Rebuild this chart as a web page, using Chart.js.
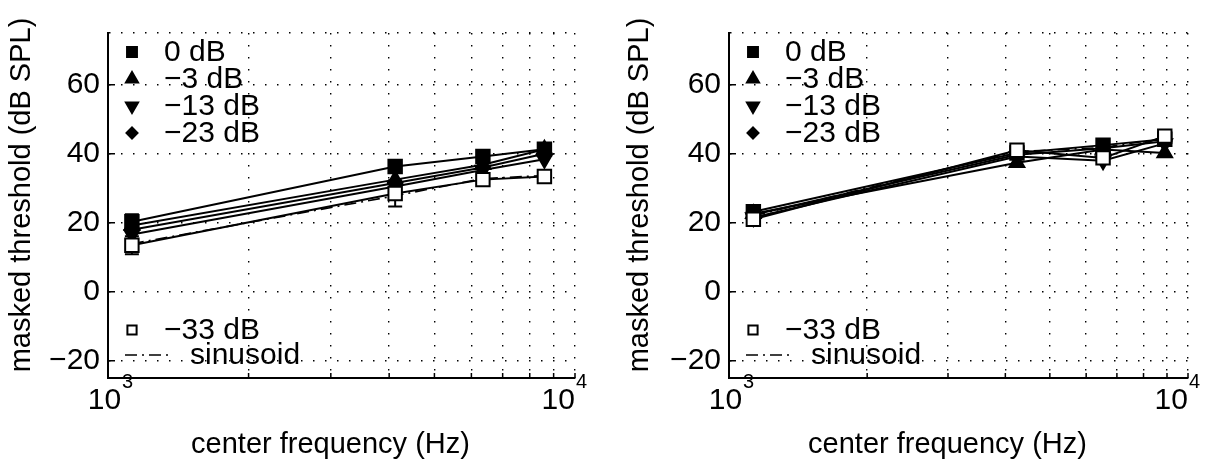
<!DOCTYPE html>
<html>
<head>
<meta charset="utf-8">
<script src="https://cdn.jsdelivr.net/npm/chart.js@4.4.1/dist/chart.umd.min.js"></script>
<style>
  html, body { margin: 0; padding: 0; background: #fff; }
  .figure { display: flex; width: 1220px; height: 467px; }
  .panel { position: relative; width: 610px; height: 467px; }
</style>
</head>
<body>
<div class="figure">
  <div class="panel"><canvas id="leftPanel" width="610" height="467"></canvas></div>
  <div class="panel"><canvas id="rightPanel" width="610" height="467"></canvas></div>
</div>
<script>
const FONT = '"Liberation Sans", Arial, Helvetica, sans-serif';

// legend names, top group then bottom group
const levelNames = ['0 dB', '\u22123 dB', '\u221213 dB', '\u221223 dB', '\u221233 dB'];
const sineName = 'sinusoid';

// axes
const yTickValues = [-20, 0, 20, 40, 60];
const xGridValues = [1000, 2000, 3000, 4000, 5000, 6000, 7000, 8000, 9000, 10000];
const xLabelValues = [1000, 10000];
const xLabelExponents = ['3', '4'];

// left panel (Hz, dB SPL)
const leftFreqs = [1125, 4120, 6350, 8600];
const leftLevel0 = [20.3, 36.3, 39.2, 41.3];
const leftLevel3 = [19.2, 32.5, 36.8, 41.3];
const leftLevel13 = [16.6, 30.5, 35.3, 38.4];
const leftLevel23 = [18.0, 31.5, 36.0, 40.0];
const leftLevel33 = [13.5, 28.5, 32.5, 33.4];
const leftSine = [13.9, 27.8, 32.8, 33.7];
const leftErr0 = [2.2, 0, 0, 0];
const leftErr33 = [2.6, 3.8, 0, 0];

// right panel (Hz, dB SPL)
const rightFreqs = [1130, 4240, 6530, 8900];
const rightLevel0 = [23.2, 40.2, 42.5, 44.2];
const rightLevel3 = [22.6, 37.4, 41.2, 40.2];
const rightLevel13 = [21.5, 39.2, 38.0, 43.0];
const rightLevel23 = [22.3, 39.7, 41.6, 43.6];
const rightLevel33 = [21.0, 41.0, 38.8, 45.1];
const rightSine = [22.0, 40.6, 41.8, 44.5];

const markerStyles = [
    { shape: 'rect', rotation: 0, radius: 9.5, fill: '#000' },
    { shape: 'triangle', rotation: 0, radius: 8.5, fill: '#000' },
    { shape: 'triangle', rotation: 180, radius: 8.5, fill: '#000' },
    { shape: 'rectRot', rotation: 0, radius: 6.5, fill: '#000' },
    { shape: 'rect', rotation: 0, radius: 9.5, fill: '#fff' },
];

function points(freqs, values) {
    return freqs.map((f, i) => ({ x: f, y: values[i] }));
}

function levelDataset(idx, freqs, values) {
    const m = markerStyles[idx];
    return {
        label: levelNames[idx],
        data: points(freqs, values),
        borderColor: '#000',
        borderWidth: 2,
        pointStyle: m.shape,
        rotation: m.rotation,
        pointRadius: m.radius,
        pointBackgroundColor: m.fill,
        pointBorderColor: '#000',
        pointBorderWidth: 2,
        order: idx === 4 ? 0 : idx + 1,
    };
}

function sineDataset(freqs, values) {
    return {
        label: sineName,
        data: points(freqs, values),
        borderColor: '#000',
        borderWidth: 1.6,
        borderDash: [12, 5, 2, 5],
        pointRadius: 0,
        order: 10,
    };
}

function drawMarker(ctx, m, x, y, radius) {
    ctx.save();
    ctx.fillStyle = m.fill;
    ctx.strokeStyle = '#000';
    ctx.lineWidth = 2;
    Chart.helpers.drawPoint(ctx, { pointStyle: m.shape, rotation: m.rotation, radius, borderWidth: 2 }, x, y);
    ctx.restore();
}

// error bars, in-axis ticks, exponent tick labels, axis titles and legend
const decorPlugin = {
    id: 'decor',
    beforeDatasetsDraw(chart, args, opts) {
        const { ctx, scales: { x, y } } = chart;
        ctx.save();
        ctx.strokeStyle = '#000';
        ctx.lineWidth = 2;
        (opts.errors || []).forEach(e => {
            const values = chart.data.datasets[e.dataset].data;
            e.err.forEach((d, i) => {
                if (!d) return;
                const px = x.getPixelForValue(values[i].x);
                const top = y.getPixelForValue(values[i].y + d);
                const bot = y.getPixelForValue(values[i].y - d);
                ctx.beginPath();
                ctx.moveTo(px, top); ctx.lineTo(px, bot);
                ctx.moveTo(px - 7, top); ctx.lineTo(px + 7, top);
                ctx.moveTo(px - 7, bot); ctx.lineTo(px + 7, bot);
                ctx.stroke();
            });
        });
        ctx.restore();
    },
    afterDraw(chart, args, opts) {
        const { ctx, chartArea: area, scales: { x, y } } = chart;
        ctx.save();
        ctx.strokeStyle = '#000';
        ctx.fillStyle = '#000';
        ctx.lineWidth = 1.5;

        // inward ticks
        ctx.beginPath();
        yTickValues.forEach(v => {
            const py = y.getPixelForValue(v);
            ctx.moveTo(area.left, py); ctx.lineTo(area.left + 7, py);
        });
        xGridValues.forEach(v => {
            const px = x.getPixelForValue(v);
            ctx.moveTo(px, area.bottom); ctx.lineTo(px, area.bottom - 5);
        });
        ctx.stroke();

        // 10^n labels
        ctx.textBaseline = 'alphabetic';
        xLabelValues.forEach((v, i) => {
            const px = x.getPixelForValue(v);
            ctx.font = '30px ' + FONT;
            const base = ctx.measureText('10').width;
            ctx.font = '20px ' + FONT;
            const sup = ctx.measureText(xLabelExponents[i]).width;
            const start = i === 0 ? px - (base + sup) / 2 + 2 : px + 11 - base - sup;
            ctx.font = '30px ' + FONT;
            ctx.textAlign = 'left';
            ctx.fillText('10', start, 409);
            ctx.font = '20px ' + FONT;
            ctx.fillText(xLabelExponents[i], start + base + 1, 388);
        });

        // axis titles
        ctx.font = '29px ' + FONT;
        ctx.textAlign = 'center';
        ctx.fillText('center frequency (Hz)', (area.left + area.right) / 2 - 11, 453);
        ctx.save();
        ctx.translate(opts.yTitleX, 195);
        ctx.rotate(-Math.PI / 2);
        ctx.textBaseline = 'middle';
        ctx.fillText('masked threshold (dB SPL)', 0, 0);
        ctx.restore();

        // legend: filled markers at the top left
        ctx.font = '30px ' + FONT;
        ctx.textAlign = 'left';
        ctx.textBaseline = 'middle';
        for (let i = 0; i < 4; i++) {
            const ry = area.top + 19 + i * 27;
            drawMarker(ctx, markerStyles[i], area.left + 24, ry, i === 3 ? 5.5 : 7);
            ctx.fillText(levelNames[i], area.left + 56, ry + 1);
        }
        // legend: open square and sinusoid at the bottom left
        const r33 = area.bottom - 48;
        drawMarker(ctx, markerStyles[4], area.left + 24, r33, 6.5);
        ctx.fillText(levelNames[4], area.left + 56, r33 + 1);
        const rs = area.bottom - 23;
        ctx.save();
        ctx.lineWidth = 1.6;
        ctx.setLineDash([12, 5, 2, 5]);
        ctx.beginPath();
        ctx.moveTo(area.left + 17, rs); ctx.lineTo(area.left + 60, rs);
        ctx.stroke();
        ctx.restore();
        ctx.fillText(sineName, area.left + 82, rs + 1);
        ctx.restore();
    },
};

function makePanel(canvasId, freqs, levels, sine, errors, plotLeft, plotRight, yTitleX) {
    const datasets = levels.map((vals, i) => levelDataset(i, freqs, vals));
    datasets.push(sineDataset(freqs, sine));
    return new Chart(document.getElementById(canvasId), {
        type: 'line',
        data: { datasets },
        plugins: [decorPlugin],
        options: {
            responsive: false,
            animation: false,
            devicePixelRatio: 1,
            layout: { padding: { top: 33, right: 610 - plotRight, left: 0, bottom: 0 } },
            elements: { line: { tension: 0 } },
            plugins: {
                legend: { display: false },
                tooltip: { enabled: false },
                decor: { errors, yTitleX },
            },
            scales: {
                x: {
                    type: 'logarithmic',
                    min: 1000,
                    max: 10000,
                    afterBuildTicks: s => { s.ticks = xGridValues.map(v => ({ value: v })); },
                    afterFit: s => { s.height = 89; },
                    ticks: { display: false },
                    grid: { color: '#000', lineWidth: 1.4, drawTicks: false },
                    border: { display: true, color: '#000', width: 2, dash: [1.5, 10.5] },
                },
                y: {
                    type: 'linear',
                    min: -25,
                    max: 75,
                    afterBuildTicks: s => { s.ticks = yTickValues.concat([75]).map(v => ({ value: v })); },
                    afterFit: s => { s.width = plotLeft; },
                    ticks: {
                        color: '#000',
                        padding: 8,
                        font: { family: FONT, size: 30 },
                        callback: v => yTickValues.includes(v) ? String(v).replace('-', '\u2212') : '',
                    },
                    grid: { color: '#000', lineWidth: 1.4, drawTicks: false },
                    border: { display: true, color: '#000', width: 2, dash: [1.5, 10.5] },
                },
            },
        },
    });
}

makePanel('leftPanel', leftFreqs,
    [leftLevel0, leftLevel3, leftLevel13, leftLevel23, leftLevel33], leftSine,
    [{ dataset: 0, err: leftErr0 }, { dataset: 4, err: leftErr33 }],
    108, 575, 22);

makePanel('rightPanel', rightFreqs,
    [rightLevel0, rightLevel3, rightLevel13, rightLevel23, rightLevel33], rightSine,
    [],
    119, 578, 30);
</script>
</body>
</html>
